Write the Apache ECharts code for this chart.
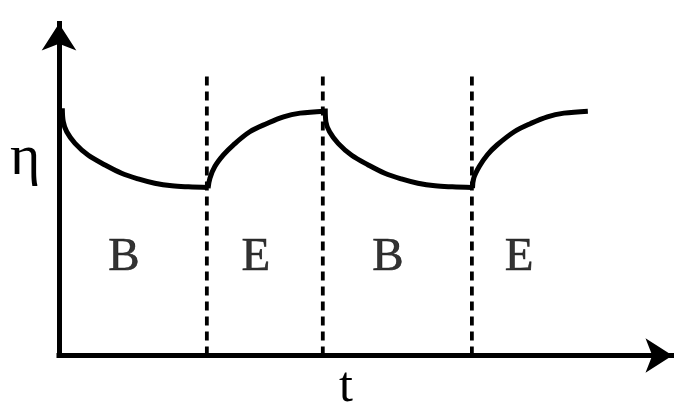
<!DOCTYPE html>
<html>
<head>
<meta charset="utf-8">
<style>
  html, body { margin: 0; padding: 0; background: #fff; }
  #chart { width: 674px; height: 406px; }
</style>
<script src="https://cdn.jsdelivr.net/npm/echarts@6/dist/echarts.min.js"></script>
</head>
<body>
<div id="chart"></div>
<script>
// time axis 0..100, efficiency axis 0..100 (arbitrary units)
const bT1 = [0.54, 0.70, 1.26, 2.61, 4.78, 7.50, 10.2, 12.9, 15.6, 18.4, 21.1, 24.3];
const bEta1 = [74.5, 70.4, 67.4, 63.9, 60.3, 57.4, 54.9, 53.2, 51.9, 51.1, 50.8, 50.6];

const eT1 = [24.3, 24.6, 25.4, 26.8, 28.4, 31.1, 33.9, 36.6, 39.3, 43.2];
const eEta1 = [50.4, 53.4, 56.9, 60.4, 63.4, 67.4, 69.9, 71.9, 73.0, 73.6];

const bT2 = [43.4, 43.5, 44.1, 45.5, 47.7, 50.4, 53.1, 55.8, 58.5, 61.3, 64.1, 67.3];
const bEta2 = [74.4, 70.4, 67.4, 63.9, 60.3, 57.4, 54.9, 53.2, 51.9, 51.1, 50.8, 50.6];

const eT2 = [67.4, 67.6, 68.5, 69.8, 71.4, 74.2, 76.9, 79.6, 82.3, 86.2];
const eEta2 = [50.4, 53.4, 56.9, 60.4, 63.4, 67.4, 69.9, 71.9, 73.0, 73.6];

const switchT = [24.1, 43.0, 67.3];
const switchTop = 84;

const phaseNames = ['B', 'E', 'B', 'E'];
const phaseT = [10.6, 32.1, 53.6, 75.0];
const phaseEta = 29.4;

const serif = '"Liberation Serif", "Times New Roman", Times';

const zip = (xs, ys) => xs.map((x, i) => [x, ys[i]]);

const chart = echarts.init(document.getElementById('chart'));

const curve = (t, eta) => ({
  type: 'line',
  data: zip(t, eta),
  smooth: 0.35,
  symbol: 'none',
  lineStyle: { color: '#000', width: 5 },
  silent: true
});

let series = [
  curve(bT1, bEta1),
  curve(eT1, eEta1),
  curve(bT2, bEta2),
  curve(eT2, eEta2)
];

switchT.forEach((t) => {
  series.push({
    type: 'line',
    data: [[t, switchTop], [t, 0]],
    symbol: 'none',
    lineStyle: { color: '#000', width: 3.8, type: [9, 6] },
    silent: true
  });
});

series.push({
  type: 'scatter',
  symbolSize: 0,
  data: phaseT.map((t, i) => ({ value: [t, phaseEta], name: phaseNames[i] })),
  label: {
    show: true,
    position: 'inside',
    formatter: '{b}',
    color: '#000',
    textBorderColor: '#000',
    textBorderWidth: 0.6,
    fontFamily: serif,
    fontSize: 47
  },
  silent: true
});

const axisLine = {
  show: true,
  symbol: ['none', 'arrow'],
  symbolSize: [26, 27],
  lineStyle: { color: '#000', width: 5, cap: 'square' }
};

const option = {
  animation: false,
  backgroundColor: '#fff',
  grid: { left: 59, right: 1.5, top: 23.5, bottom: 50.5 },
  xAxis: {
    type: 'value',
    min: 0,
    max: 100,
    axisLine: axisLine,
    axisTick: { show: false },
    axisLabel: { show: false },
    splitLine: { show: false }
  },
  yAxis: {
    type: 'value',
    min: 0,
    max: 100,
    axisLine: axisLine,
    axisTick: { show: false },
    axisLabel: { show: false },
    splitLine: { show: false }
  },
  graphic: [
    {
      type: 'text',
      left: 10,
      top: 130,
      style: { text: 'η', fontFamily: serif, fontSize: 58, fill: '#000' }
    },
    {
      type: 'text',
      left: 339,
      top: 363,
      style: { text: 't', fontFamily: serif, fontSize: 50, fill: '#000' }
    }
  ],
  series: series
};

chart.setOption(option);
</script>
</body>
</html>
